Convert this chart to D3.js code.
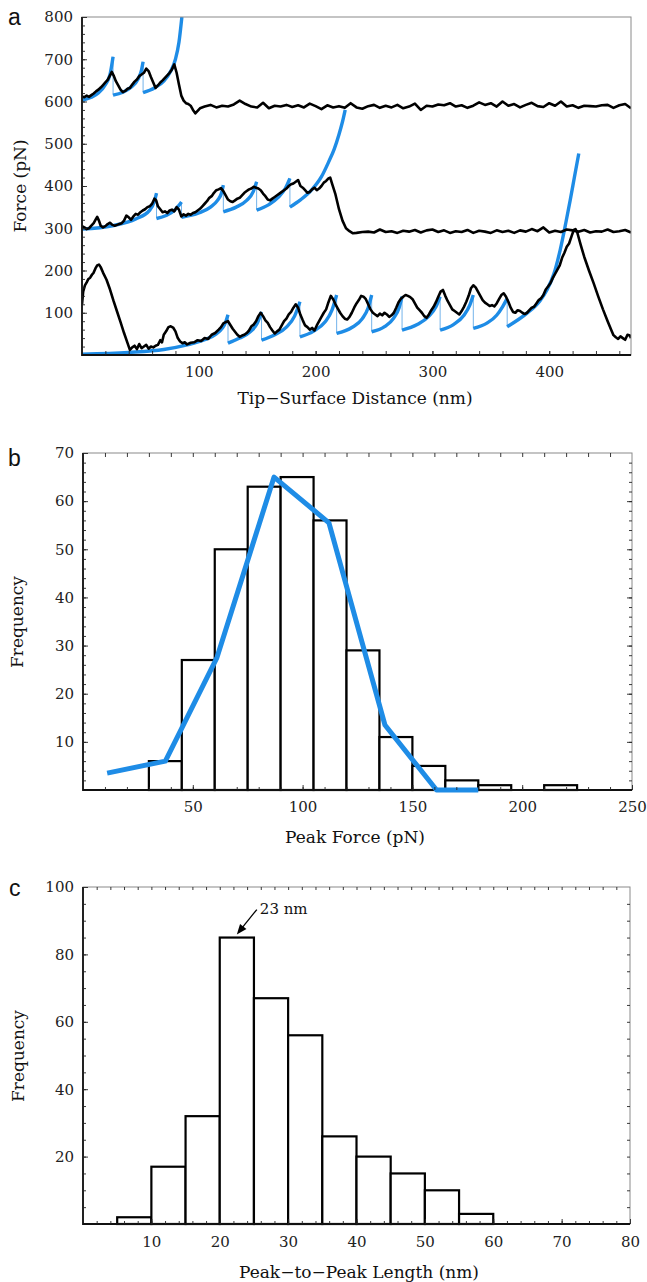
<!DOCTYPE html>
<html>
<head>
<meta charset="utf-8">
<script src="https://cdn.jsdelivr.net/npm/d3@7"></script>
<style>
  body { margin: 0; background: #fff; }
</style>
</head>
<body>
<svg width="647" height="1282"></svg>
<script>
// ---- panel a : force traces (pN) vs tip-surface distance (nm) ----
const traceTop = [
  [0,612],[2,610],[4,614],[6,611],[8,615],[10,619],[12,624],[14,628],[16,633],[18,639],[20,645],[22,651],
  [24,662],[25.5,670],[27,662],[29,648],[31,638],[33,628],[35,622],[37,625],[39,630],[41,632],[43,640],
  [45,647],[47,652],[49,660],[51,664],[53,668],[55,678],[57,672],[59,658],[61,645],[63,632],[65,638],
  [67,645],[69,650],[71,656],[73,662],[75,668],[77,676],[79,688],[81,668],[83,640],[85,614],[87,602],
  [89,596],[91,594],[93,590],[95,580],[97,572],[99,578],[101,584],[105,588],[110,592],[115,586],[120,590],
  [125,588],[130,593],[135,602],[140,594],[145,588],[150,586],[155,597],[160,584],[165,590],[170,588],
  [175,592],[180,587],[185,591],[190,586],[195,595],[200,589],[205,582],[210,591],[215,586],[220,589],
  [225,585],[230,596],[235,586],[240,583],[245,589],[250,592],[255,585],[260,590],[265,586],[270,592],
  [275,584],[280,588],[285,595],[290,580],[295,590],[300,588],[305,593],[310,591],[315,596],[320,588],
  [325,591],[330,585],[335,590],[340,598],[345,592],[350,596],[355,588],[360,600],[365,590],[370,594],
  [375,586],[380,592],[385,597],[390,589],[395,587],[400,596],[405,590],[410,600],[415,588],[420,591],
  [425,585],[430,590],[435,589],[440,588],[445,591],[450,592],[455,585],[460,591],[465,594],[470,584]
];
const traceMid = [
  [0,305],[2,302],[4,298],[6,300],[8,306],[10,312],[12,322],[13,327],[14.5,318],[16,306],[18,302],[20,305],
  [22,310],[24,313],[26,308],[28,306],[30,308],[32,310],[34,312],[36,318],[38,330],[40,326],[42,320],
  [44,328],[46,334],[48,332],[50,338],[52,342],[54,345],[56,350],[58,352],[60,358],[62,370],[63.5,366],
  [65,352],[67,345],[69,338],[71,340],[73,336],[75,342],[77,344],[79,340],[81,350],[83,344],[85,328],
  [87,333],[89,330],[91,334],[93,332],[95,336],[97,338],[99,342],[101,346],[103,352],[105,358],[107,364],
  [109,372],[111,376],[113,384],[115,390],[117,392],[119,395],[121,388],[123,378],[125,368],[127,364],
  [129,362],[131,366],[133,370],[135,372],[137,378],[139,384],[141,388],[143,392],[145,394],[147,398],
  [149,396],[151,394],[153,390],[155,382],[157,376],[159,368],[161,366],[163,370],[165,374],[167,378],
  [169,382],[171,386],[173,390],[175,394],[177,400],[179,404],[181,406],[183,410],[185,414],[187,400],
  [189,396],[191,390],[193,384],[195,386],[197,392],[199,396],[201,390],[203,394],[205,400],[207,408],
  [209,412],[211,418],[212.5,420],[214,406],[217,380],[220,345],[223,318],[226,300],[229,293],[232,288],
  [235,289],[240,291],[245,292],[250,290],[255,297],[260,291],[265,293],[270,289],[275,294],[280,292],
  [285,296],[290,290],[295,295],[300,297],[305,291],[310,295],[315,289],[320,293],[325,291],[330,296],
  [335,289],[340,294],[345,292],[350,289],[355,295],[360,291],[365,294],[370,289],[375,295],[380,292],
  [385,298],[390,293],[395,302],[400,290],[405,294],[410,291],[415,297],[420,295],[425,292],[430,296],
  [435,290],[440,293],[445,292],[450,297],[455,291],[460,293],[465,296],[470,290]
];
const traceBottom = [
  [0,120],[1,150],[2.5,165],[4,172],[5.5,180],[7,183],[8.5,190],[10,195],[11.5,205],[13,212],[14.5,214],
  [16,208],[18,195],[21,178],[24,155],[27,128],[30,103],[33,78],[36,52],[39,28],[41,12],[43,18],[45,22],
  [47,14],[49,26],[51,16],[53,20],[55,24],[57,15],[59,20],[61,18],[63,22],[65,24],[67,35],[68.5,30],
  [70,48],[72,56],[74,66],[76,68],[78,65],[80,56],[82,40],[84,32],[86,28],[88,30],[90,25],[93,29],[96,30],
  [99,35],[102,33],[105,40],[108,38],[111,48],[114,52],[117,60],[119,66],[121,75],[123,78],[125,80],
  [127,71],[129,62],[131,55],[133,48],[135,43],[137,46],[139,48],[141,52],[143,58],[145,68],[147,72],
  [149,80],[151,92],[153,100],[155,92],[157,82],[159,76],[161,66],[163,58],[165,51],[167,56],[169,60],
  [171,70],[173,80],[175,86],[177,96],[179,102],[181,112],[183,120],[185,112],[187,95],[189,82],[191,70],
  [193,66],[195,60],[197,64],[199,58],[201,70],[203,80],[205,90],[207,100],[209,108],[211,125],[213,140],
  [215,132],[217,120],[219,110],[221,100],[223,92],[225,86],[227,84],[229,90],[231,100],[233,112],
  [235,122],[237,130],[239,140],[241,138],[243,132],[245,120],[247,108],[249,100],[251,96],[253,92],
  [255,98],[257,94],[259,100],[261,96],[263,90],[265,94],[267,100],[269,112],[271,125],[273,133],
  [275,138],[277,142],[279,140],[281,137],[283,132],[285,122],[287,112],[289,106],[291,100],[293,92],
  [295,88],[297,96],[299,106],[301,114],[303,125],[305,138],[307,150],[309,154],[311,140],[313,128],
  [315,118],[317,108],[319,104],[321,100],[323,96],[325,104],[327,114],[329,126],[331,140],[333,158],
  [335,165],[337,160],[339,150],[341,140],[343,130],[345,124],[347,120],[349,116],[351,118],[353,115],
  [355,122],[357,132],[359,142],[361,146],[363,138],[365,126],[367,112],[369,102],[371,100],[373,106],
  [375,104],[377,100],[379,97],[381,100],[383,106],[385,112],[387,114],[389,122],[391,130],[393,134],
  [395,142],[397,155],[399,162],[401,170],[403,182],[405,192],[407,202],[409,212],[411,230],[413,242],
  [415,256],[417,264],[419,280],[421,296],[422.5,298],[424,290],[427,260],[430,232],[434,200],[438,170],
  [442,138],[446,108],[450,80],[453,60],[455,47],[457,42],[459,38],[461,44],[463,40],[465,36],[467,48],
  [469,46],[470,40]
];

// worm-like-chain fit segments
const fitsTop = [
  [[0,603],[8,610],[14,620],[20,640],[24,664],[26.6,706]],
  [[26.6,615],[35,622],[42,634],[48,653],[51,675],[52.3,694]],
  [[52.3,621],[62,632],[70,648],[76,672],[80,700],[83,740],[85.5,800]]
];
const fitsMid = [
  [[0,298],[26,306],[46,322],[58,343],[62,364],[63.8,383]],
  [[63.8,323],[72,330],[79,342],[83,354],[85.2,362]],
  [[85.2,326],[100,336],[110,350],[116,366],[119.5,384],[121,402]],
  [[121,339],[132,350],[141,366],[146.5,386],[149.5,410]],
  [[149.5,343],[160,356],[168,373],[174,394],[178,418]],
  [[178,350],[187,367],[197,392],[205,422],[211,456],[216,488],[220,522],[223,552],[225.3,580]]
];
const fitsBottom = [
  [[0,2],[40,6],[70,13],[90,24],[105,36],[115,50],[120,63],[123,78],[125,95]],
  [[125,28],[135,40],[144,55],[150,75],[153.7,102]],
  [[153.7,35],[165,48],[175,66],[182,92],[186.6,126]],
  [[186.6,43],[198,56],[208,78],[214,106],[218,142]],
  [[218,51],[231,65],[240,86],[245,112],[248,142]],
  [[248,55],[259,67],[267,88],[271.5,112],[274,138]],
  [[274,59],[287,72],[297,92],[303,114],[306.6,138]],
  [[306.6,59],[318,72],[327,94],[332,118],[335,142]],
  [[335,63],[347,76],[355,94],[360,114],[364,134]],
  [[364,67],[381,99],[392,128],[398,154],[404,192],[409.4,249],[414,310],[418,367],[421.5,420],[425.3,477]]
];

// ---- panel b : peak force histogram ----
const forceEdges = [30,45,60,75,90,105,120,135,150,165,180,195,210,225,240];
const forceCounts = [6,27,50,63,65,56,29,11,5,2,1,0,1,0];
const forceFit = [[11,3.5],[37.5,6],[61,27.5],[87,65],[112,55.5],[137.5,13.5],[161,0],[180,0]];

// ---- panel c : peak-to-peak length histogram ----
const lengthEdges = [5,10,15,20,25,30,35,40,45,50,55,60];
const lengthCounts = [2,17,32,85,67,56,26,20,15,10,3];
const peakNote = "23 nm";

const svg = d3.select("svg");
const serif = "'DejaVu Serif', 'Liberation Serif', serif";
const sans = "'Liberation Sans', Arial, sans-serif";
const blue = "#1e8ce6";

// frame: black left/bottom, grey top/right
function frame(x, y) {
  const [x0, x1] = x.range(), [y0, y1] = y.range();
  svg.append("rect").attr("x", x0).attr("y", y1).attr("width", x1 - x0).attr("height", y0 - y1)
    .attr("fill", "none").attr("stroke", "#8a8a8a").attr("stroke-width", 1);
  svg.append("path").attr("d", `M${x0},${y1}V${y0}H${x1}`)
    .attr("fill", "none").attr("stroke", "#111").attr("stroke-width", 1.8);
}

function axis(gen, pos, values, size, labels, pad) {
  const g = svg.append("g").attr("transform", pos)
    .call(gen.tickValues(values).tickSize(-size).tickPadding(pad || 9)
      .tickFormat(labels ? d3.format("d") : ""));
  g.select(".domain").remove();
  g.attr("font-family", serif).attr("font-size", 15).attr("color", "#222");
  g.selectAll("line").attr("stroke-width", 0.9);
  return g;
}

function title(text, x, y, rot) {
  const t = svg.append("text").attr("font-family", serif).attr("font-size", 17)
    .attr("fill", "#111").attr("text-anchor", "middle").text(text);
  if (rot) t.attr("transform", `translate(${x},${y}) rotate(-90)`);
  else t.attr("x", x).attr("y", y);
}

function letter(text, x, y) {
  svg.append("text").attr("x", x).attr("y", y).attr("font-family", sans)
    .attr("font-size", 23).attr("fill", "#111").text(text);
}

// ================= panel a =================
const xa = d3.scaleLinear().domain([0, 470]).range([82, 631]);
const ya = d3.scaleLinear().domain([0, 800]).range([355, 17]);

svg.append("clipPath").attr("id", "clipA").append("rect")
  .attr("x", 82).attr("y", 17).attr("width", 549).attr("height", 338);

const lineA = d3.line().x(d => xa(d[0])).y(d => ya(d[1]));
const fitLine = d3.line().x(d => xa(d[0])).y(d => ya(d[1])).curve(d3.curveMonotoneX);
const plotA = svg.append("g").attr("clip-path", "url(#clipA)");

[fitsTop, fitsMid, fitsBottom].forEach(fits => {
  // thin drops between consecutive fits
  fits.slice(1).forEach((f, i) => {
    const prev = fits[i][fits[i].length - 1];
    plotA.append("line")
      .attr("x1", xa(prev[0])).attr("x2", xa(f[0][0]))
      .attr("y1", ya(prev[1])).attr("y2", ya(f[0][1]))
      .attr("stroke", "#74b3ea").attr("stroke-width", 1);
  });
  plotA.selectAll(null).data(fits).enter().append("path")
    .attr("d", fitLine).attr("fill", "none").attr("stroke", blue).attr("stroke-width", 3.4);
});

[traceTop, traceMid, traceBottom].forEach(tr => {
  plotA.append("path").datum(tr).attr("d", lineA).attr("fill", "none")
    .attr("stroke", "#000").attr("stroke-width", 2.6).attr("stroke-linejoin", "round");
});

frame(xa, ya);
axis(d3.axisLeft(ya), "translate(82,0)", d3.range(100, 801, 100), 5, true, 9);
axis(d3.axisLeft(ya), "translate(82,0)", d3.range(20, 800, 20), 3, false);
axis(d3.axisBottom(xa), "translate(0,355)", [100, 200, 300, 400], 4, true, 11);
axis(d3.axisBottom(xa), "translate(0,355)", d3.range(20, 470, 20), 4, false);
title("Tip\u2212Surface Distance (nm)", 355, 404);
title("Force (pN)", 26, 186, true);
letter("a", 8, 25);

// ================= panel b =================
const xb = d3.scaleLinear().domain([0, 250]).range([83, 632]);
const yb = d3.scaleLinear().domain([0, 70]).range([790, 453]);

const forceBars = forceCounts.map((c, i) => ({x0: forceEdges[i], x1: forceEdges[i + 1], c}));
svg.selectAll(null).data(forceBars.filter(d => d.c > 0)).enter().append("rect")
  .attr("x", d => xb(d.x0)).attr("width", d => xb(d.x1) - xb(d.x0))
  .attr("y", d => yb(d.c)).attr("height", d => yb(0) - yb(d.c))
  .attr("fill", "#fff").attr("stroke", "#000").attr("stroke-width", 2.2);

frame(xb, yb);
svg.append("path").datum(forceFit)
  .attr("d", d3.line().x(d => xb(d[0])).y(d => yb(d[1])))
  .attr("fill", "none").attr("stroke", blue).attr("stroke-width", 5).attr("stroke-linejoin", "round");

axis(d3.axisLeft(yb), "translate(83,0)", d3.range(10, 71, 10), 5, true, 9);
axis(d3.axisLeft(yb), "translate(83,0)", d3.range(2, 70, 2), 3, false);
axis(d3.axisRight(yb), "translate(632,0)", d3.range(10, 70, 10), 5, false);
axis(d3.axisRight(yb), "translate(632,0)", d3.range(2, 70, 2), 3, false);
axis(d3.axisBottom(xb), "translate(0,790)", [50, 100, 150, 200, 250], 5, true, 11);
axis(d3.axisBottom(xb), "translate(0,790)", d3.range(10, 250, 10), 3, false);
axis(d3.axisTop(xb), "translate(0,453)", d3.range(10, 250, 10), 4, false);
title("Peak Force (pN)", 355, 843);
title("Frequency", 23, 622, true);
letter("b", 8, 466);

// ================= panel c =================
const xc = d3.scaleLinear().domain([0, 80]).range([83, 630]);
const yc = d3.scaleLinear().domain([0, 100]).range([1224, 887]);

const lengthBars = lengthCounts.map((c, i) => ({x0: lengthEdges[i], x1: lengthEdges[i + 1], c}));
svg.selectAll(null).data(lengthBars).enter().append("rect")
  .attr("x", d => xc(d.x0)).attr("width", d => xc(d.x1) - xc(d.x0))
  .attr("y", d => yc(d.c)).attr("height", d => yc(0) - yc(d.c))
  .attr("fill", "#fff").attr("stroke", "#000").attr("stroke-width", 2.2);

frame(xc, yc);
axis(d3.axisLeft(yc), "translate(83,0)", [20, 40, 60, 80, 100], 5, true, 9);
axis(d3.axisLeft(yc), "translate(83,0)", d3.range(5, 100, 5), 3, false);
axis(d3.axisRight(yc), "translate(630,0)", d3.range(5, 100, 5), 3, false);
axis(d3.axisBottom(xc), "translate(0,1224)", d3.range(10, 81, 10), 5, true, 12);
axis(d3.axisBottom(xc), "translate(0,1224)", d3.range(2, 80, 2), 3, false);
axis(d3.axisTop(xc), "translate(0,887)", d3.range(2, 80, 2), 3, false);
title("Peak\u2212to\u2212Peak Length (nm)", 359, 1278);
title("Frequency", 24, 1056, true);
letter("c", 9, 896);

// arrow to the tallest bar
const tallest = lengthBars.reduce((a, b) => (b.c > a.c ? b : a));
const tip = [xc((tallest.x0 + tallest.x1) / 2), yc(tallest.c) - 3];
const tail = [tip[0] + 20, tip[1] - 25];
svg.append("line").attr("x1", tail[0]).attr("y1", tail[1])
  .attr("x2", tip[0] + 5).attr("y2", tip[1] - 6.5).attr("stroke", "#000").attr("stroke-width", 1.3);
const ang = Math.atan2(tip[1] - tail[1], tip[0] - tail[0]);
const head = [0, 1, 2].map(k => {
  if (k === 0) return tip;
  const a = ang + Math.PI + (k === 1 ? 0.38 : -0.38);
  return [tip[0] + 11 * Math.cos(a), tip[1] + 11 * Math.sin(a)];
});
svg.append("path").attr("d", d3.line()(head) + "Z").attr("fill", "#000");
svg.append("text").attr("x", tail[0] + 3).attr("y", tail[1] + 4)
  .attr("font-family", serif).attr("font-size", 15).attr("fill", "#111").text(peakNote);
</script>
</body>
</html>
